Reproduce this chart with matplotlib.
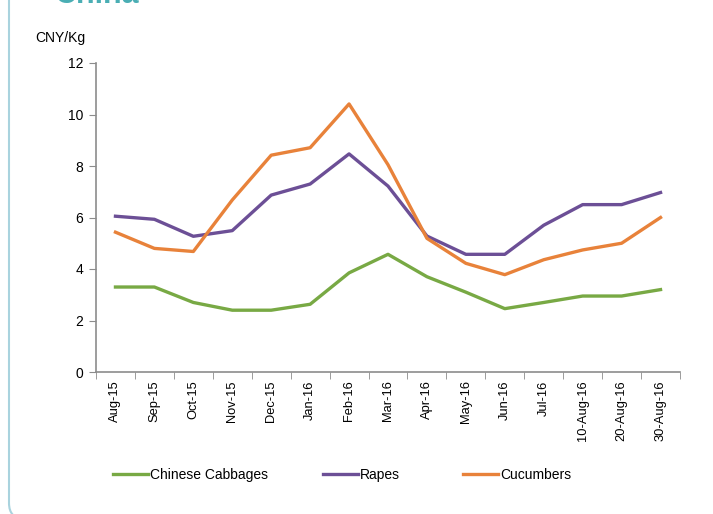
import numpy as np
import matplotlib.pyplot as plt
from matplotlib.patches import FancyBboxPatch

plt.rcParams['font.family'] = ['Liberation Sans Narrow', 'Liberation Sans', 'DejaVu Sans']

# Datos (CNY/Kg)
meses = ['Aug-15', 'Sep-15', 'Oct-15', 'Nov-15', 'Dec-15', 'Jan-16', 'Feb-16', 'Mar-16',
         'Apr-16', 'May-16', 'Jun-16', 'Jul-16', '10-Aug-16', '20-Aug-16', '30-Aug-16']
coles = [3.3, 3.3, 2.7, 2.4, 2.4, 2.63, 3.85, 4.57, 3.7, 3.1, 2.46, 2.7, 2.95, 2.95, 3.2]
colza = [6.05, 5.93, 5.27, 5.49, 6.87, 7.3, 8.47, 7.22, 5.28, 4.57, 4.57, 5.7, 6.5, 6.5, 6.97]
pepinos = [5.43, 4.8, 4.68, 6.68, 8.42, 8.71, 10.41, 8.05, 5.19, 4.22, 3.78, 4.36, 4.74, 5.0, 6.0]

gris = '#8c8c8c'
fig = plt.figure(figsize=(7.13, 5.14), dpi=100)

# Marco redondeado (solo se ve el lado izquierdo y la esquina de abajo)
marco = FancyBboxPatch((0.09, -0.05), 8, 8, boxstyle='round,pad=0,rounding_size=0.16',
                       transform=fig.dpi_scale_trans, fill=False, edgecolor='#a9d3de', lw=1.5)
fig.patches.append(marco)
fig.text(55 / 713, 1 - 3 / 514, 'China', color='#4aaeb4', fontsize=22, fontweight='bold',
         va='baseline', ha='left')

ax = fig.add_axes([96 / 713, 1 - 372 / 514, 584 / 713, 309 / 514])
x = np.arange(len(meses)) + 0.5
l1, = ax.plot(x, coles, color='#78a944', lw=2.4, label='Chinese Cabbages')
l2, = ax.plot(x, colza, color='#6c4f96', lw=2.4, label='Rapes')
l3, = ax.plot(x, pepinos, color='#e8823a', lw=2.4, label='Cucumbers')

ax.set_xlim(0, len(meses))
ax.set_ylim(0, 12)
ax.set_yticks(range(0, 13, 2))
ax.set_xticks(x)
ax.set_xticklabels(meses, rotation=90, fontsize=9.3)
ax.set_xticks(np.arange(len(meses) + 1), minor=True)
ax.tick_params(axis='x', which='major', length=0, pad=6)
ax.tick_params(axis='x', which='minor', length=5, color=gris, direction='out')
ax.tick_params(axis='y', length=5, color=gris, labelsize=10, pad=4)
for s in ['top', 'right']:
    ax.spines[s].set_visible(False)
for s in ['left', 'bottom']:
    ax.spines[s].set_color(gris)
    ax.spines[s].set_linewidth(1.2)

fig.text(35 / 713, 1 - 38 / 514, 'CNY/Kg', fontsize=10, va='center', ha='left')

# Leyenda: tres entradas colocadas a mano como en el original
for linea, xpos in [(l1, 113), (l2, 323), (l3, 463)]:
    fig.legend([linea], [linea.get_label()], loc='center left',
               bbox_to_anchor=(xpos / 713, 1 - 475 / 514), frameon=False, fontsize=10,
               handlelength=2.5, handletextpad=0.15, borderaxespad=0, borderpad=0)

fig.savefig('out.png', dpi=100)
